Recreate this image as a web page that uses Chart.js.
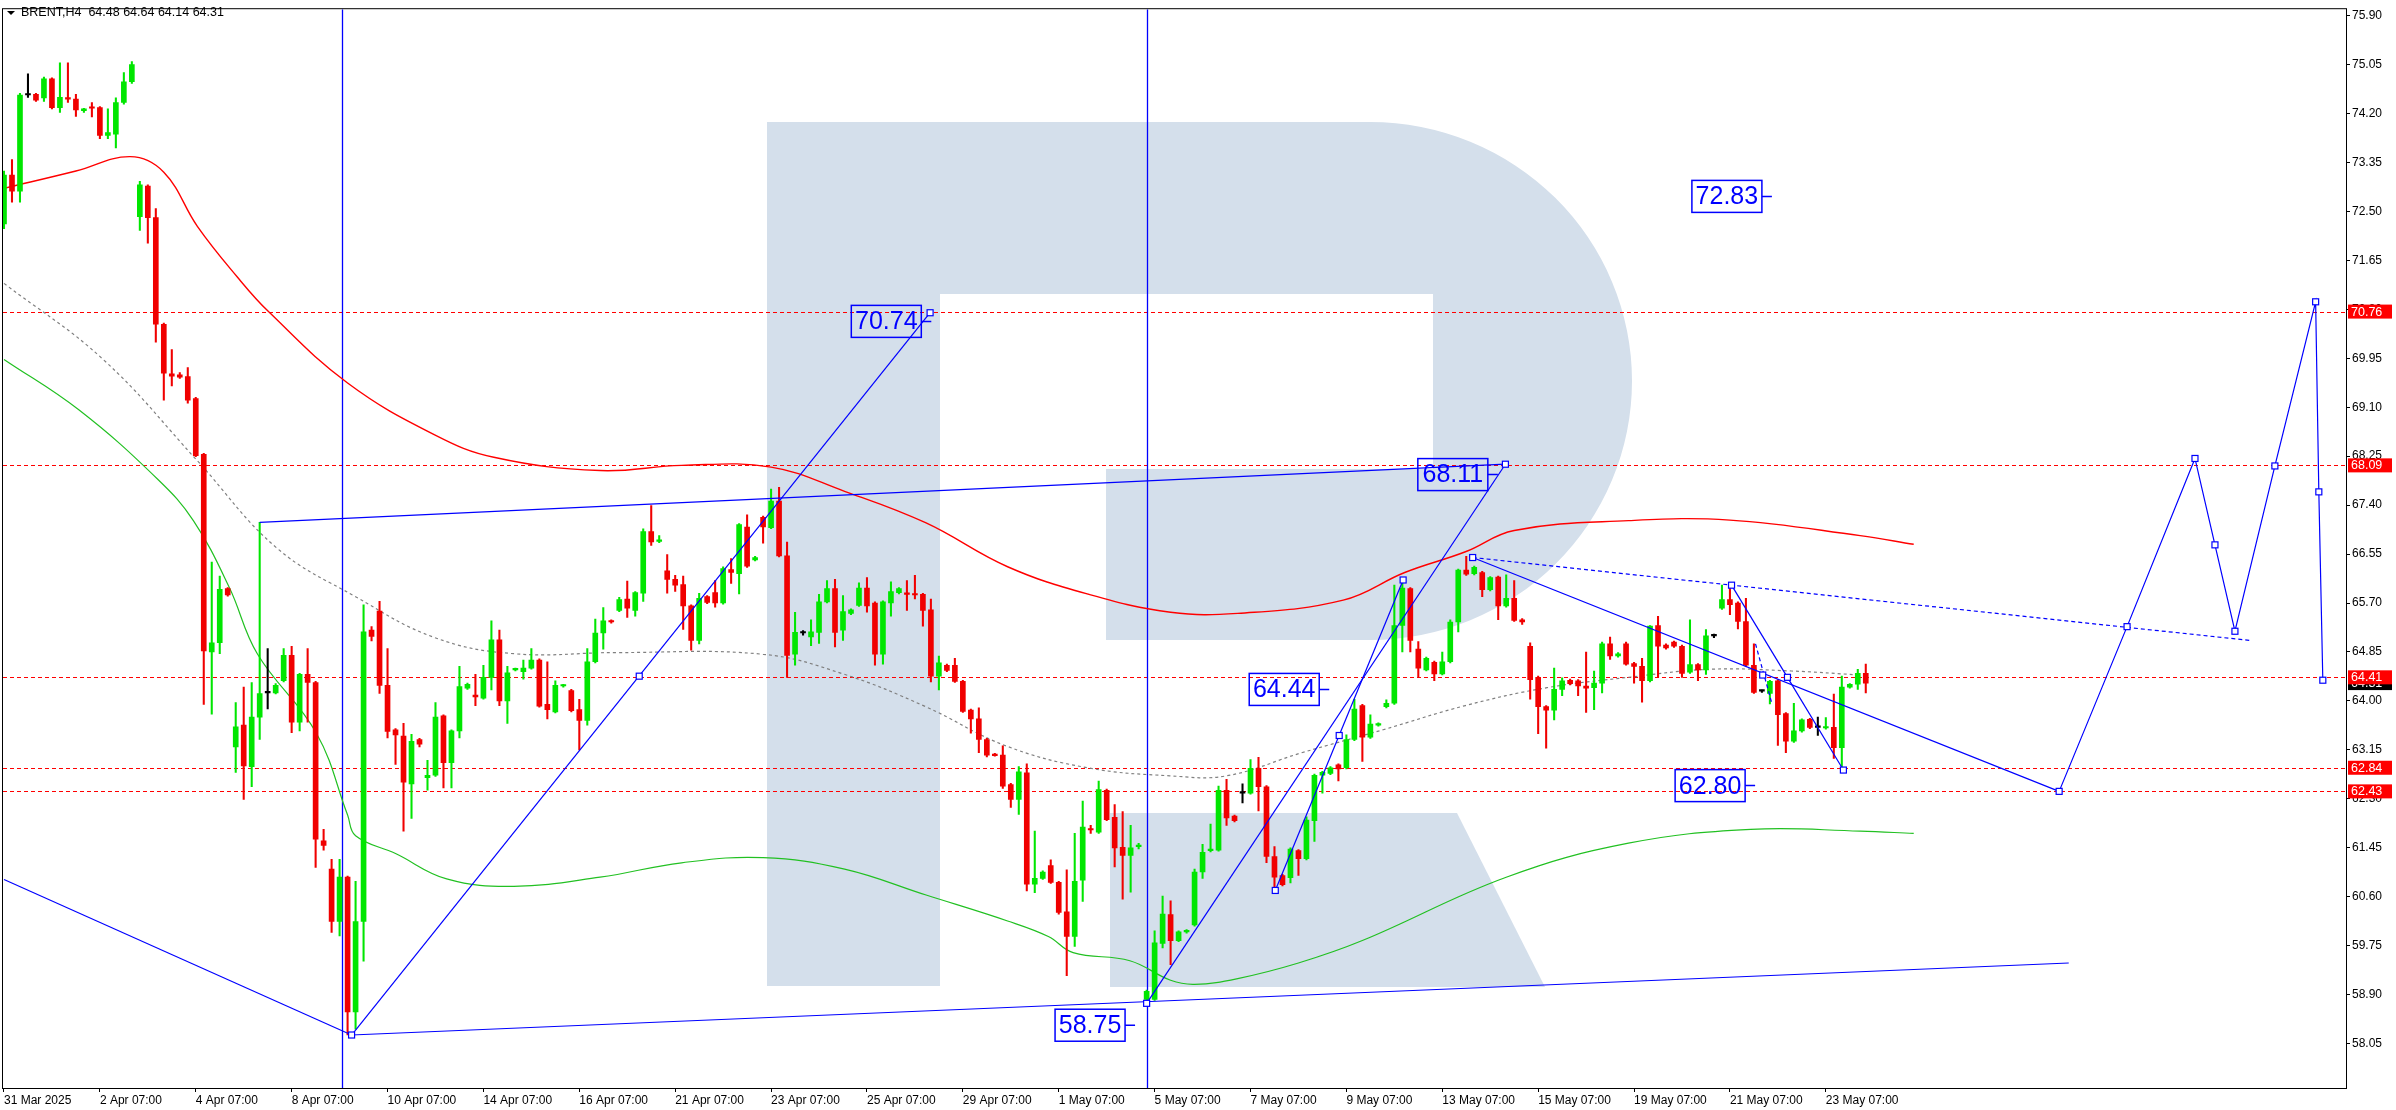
<!DOCTYPE html>
<html>
<head>
<meta charset="utf-8">
<script src="https://cdn.jsdelivr.net/npm/chart.js@4.4.1/dist/chart.umd.min.js"></script>
<style>
  html, body { margin: 0; padding: 0; background: #fff; }
  #wrap { width: 2396px; height: 1110px; }
</style>
</head>
<body>
<div id="wrap"><canvas id="c" width="2396" height="1110"></canvas></div>
<script>
// ── Data (BRENT H4) ───────────────────────────────────────────────────────────
const opens = [72.28,73.13,72.85,74.52,74.53,74.47,74.80,74.30,74.47,74.45,74.25,74.31,74.30,73.82,73.84,74.39,74.75,
  72.41,72.94,72.39,70.54,69.68,69.66,69.63,69.25,68.28,64.85,65.01,65.95,
  63.20,63.58,62.86,63.72,64.14,64.14,64.35,64.79,63.63,64.46,64.32,61.57,61.08,60.17,60.94,58.60,60.17,65.23,65.56,64.27,
  63.50,63.39,62.56,63.33,62.67,62.71,63.74,62.93,63.48,64.22,64.10,64.05,64.41,65.06,64.00,64.54,64.51,64.57,64.71,63.94,
  63.81,64.26,64.18,63.85,63.66,64.68,65.18,65.39,65.57,65.77,65.57,65.87,66.94,66.77,66.26,66.11,66.02,65.65,65.05,65.81,
  65.88,65.70,66.28,66.21,67.02,66.45,67.19,67.01,67.47,66.52,64.81,65.18,65.11,65.19,65.72,65.95,65.23,65.52,65.66,65.96,
  65.70,64.81,65.70,65.88,65.87,65.86,65.85,65.58,64.43,64.62,64.62,64.34,63.84,63.69,63.33,63.07,63.06,62.55,62.29,62.75,
  60.82,60.92,61.14,60.85,60.34,59.91,60.89,61.78,61.72,62.45,61.98,61.46,61.32,61.47,58.82,58.82,59.79,60.29,59.84,59.99,
  60.11,61.03,61.40,61.41,62.45,62.00,62.40,62.40,62.83,62.51,61.30,60.97,60.93,61.40,61.26,61.92,62.71,62.74,62.89,62.84,
  63.33,63.92,63.37,63.58,63.90,63.96,65.31,65.95,64.90,64.54,64.67,64.47,64.68,65.37,66.27,66.21,66.23,65.93,66.15,65.65,
  65.78,65.41,64.95,64.41,63.90,63.84,64.20,64.36,64.35,64.26,64.23,64.31,64.99,64.78,64.99,64.65,64.60,64.35,65.31,64.97,
  65.02,64.95,64.50,64.63,64.54,65.13,65.61,65.76,65.70,65.38,64.62,64.17,64.13,64.35,63.78,63.30,63.48,63.68,63.54,63.53,
  63.54,63.19,64.24,64.29,64.48];
const highs = [73.20,73.40,74.55,74.89,74.55,74.83,74.82,75.08,75.08,74.53,74.29,74.39,74.32,74.28,74.47,74.91,75.10,
  73.02,72.96,72.55,70.56,70.10,69.70,69.79,69.27,68.30,66.41,66.17,65.97,
  63.97,64.24,64.32,67.10,64.91,64.30,64.91,64.95,64.48,64.91,64.34,61.77,61.25,61.25,60.96,60.87,65.67,65.29,65.73,64.91,
  63.52,63.61,63.42,63.35,62.97,63.97,63.76,63.50,64.60,64.31,64.46,64.62,65.39,65.23,64.60,64.57,64.71,64.91,64.73,64.68,
  64.35,64.29,64.20,64.03,64.91,65.42,65.62,65.41,65.80,66.08,65.90,66.99,67.39,66.87,66.54,66.18,66.17,65.67,65.87,65.83,
  66.09,66.33,66.47,67.08,67.23,66.51,67.21,67.68,67.71,66.76,65.54,65.22,65.41,65.85,66.09,66.11,65.83,65.60,66.05,66.14,
  65.72,65.74,66.07,65.97,66.09,66.18,65.87,65.77,64.78,64.64,64.74,64.36,63.86,63.88,63.35,63.09,63.22,62.57,62.86,62.91,
  61.74,61.05,61.24,60.87,61.07,61.70,62.26,61.84,62.61,62.47,62.20,62.08,61.84,61.53,58.98,60.01,60.61,60.53,60.01,60.03,
  61.08,61.51,61.86,62.52,62.64,62.02,62.56,62.98,63.02,62.53,61.47,60.99,61.45,61.42,61.99,62.73,62.78,62.86,62.91,63.41,
  64.03,63.94,63.76,63.62,64.02,66.01,66.12,65.97,65.03,64.76,64.69,64.85,65.41,66.29,66.51,66.34,66.25,66.16,66.17,66.19,
  66.09,65.43,65.01,64.43,63.92,64.57,64.40,64.38,64.37,64.85,64.52,65.02,65.11,64.84,65.02,64.67,64.74,65.31,65.47,64.99,
  65.04,64.97,65.41,64.65,65.24,65.16,66.01,66.00,65.72,65.78,64.99,64.19,64.36,64.37,63.80,63.96,63.69,63.70,63.72,63.71,
  64.12,64.43,64.30,64.55,64.64];
const lows = [72.20,72.66,72.66,74.48,74.41,74.41,74.28,74.22,74.39,74.15,74.22,74.14,73.76,73.76,73.60,74.36,74.72,
  72.17,71.95,70.23,69.22,69.47,69.60,69.17,68.24,63.94,63.77,64.82,65.82,
  62.76,62.29,62.51,63.33,63.86,64.12,64.33,63.45,63.48,63.63,61.11,61.41,59.98,59.92,58.20,58.30,59.48,65.04,64.13,63.36,
  62.90,61.74,61.96,63.20,62.45,62.69,62.49,62.49,63.36,64.20,63.92,64.03,64.19,63.92,63.61,64.52,64.38,64.55,63.89,63.69,
  63.79,64.24,63.81,63.15,63.58,64.66,64.90,65.35,65.55,65.45,65.47,65.73,66.70,66.75,65.87,65.90,65.24,64.88,64.99,65.69,
  65.63,65.68,66.04,65.86,66.32,66.43,66.74,66.99,66.50,64.41,64.62,65.14,64.96,65.00,65.70,64.94,65.05,65.50,65.64,65.54,
  64.62,64.64,65.47,65.86,65.57,65.77,65.30,64.33,64.19,64.51,64.32,63.80,63.44,63.10,63.03,63.04,62.48,62.15,62.03,60.70,
  60.67,60.90,60.83,60.30,59.23,59.74,60.52,61.70,61.70,61.92,61.12,60.56,60.68,61.43,58.75,58.80,59.71,59.42,59.82,59.97,
  60.09,60.92,61.38,61.39,61.84,61.90,62.23,62.38,62.09,61.19,60.71,60.79,60.84,60.97,61.24,61.56,62.40,62.72,62.61,62.82,
  63.31,62.95,63.35,63.56,63.88,63.94,64.85,64.85,64.41,64.52,64.35,64.45,64.66,65.20,66.18,66.19,65.81,65.91,65.41,65.63,
  65.38,65.33,64.03,63.43,63.18,63.67,64.09,64.28,64.09,63.80,63.85,64.14,64.72,64.76,64.62,64.31,63.98,64.33,64.41,64.90,
  64.93,64.41,64.48,64.35,64.46,65.10,65.59,65.50,65.25,64.60,64.13,64.15,63.95,63.23,63.10,63.28,63.46,63.52,63.40,63.51,
  63.00,62.80,64.22,64.20,64.14];
const closes = [73.13,72.85,74.52,74.52,74.43,74.80,74.30,74.48,74.45,74.26,74.28,74.29,73.82,73.87,74.39,74.75,75.05,
  72.96,72.39,70.54,69.69,69.64,69.62,69.22,68.26,64.87,65.01,65.94,65.84,
  63.55,62.87,63.72,64.13,64.14,64.27,64.79,63.63,64.46,64.32,61.60,61.49,60.17,60.94,58.60,60.17,65.20,65.12,64.27,63.47,
  63.41,62.59,63.30,63.25,62.71,63.72,62.93,63.48,64.25,64.29,64.07,64.41,65.06,64.00,64.49,64.56,64.57,64.71,63.91,63.85,
  64.27,64.28,63.83,63.66,64.68,65.18,65.39,65.37,65.76,65.61,65.88,66.94,66.76,66.79,66.11,66.01,65.65,65.05,65.78,65.71,
  65.70,66.30,66.23,67.06,66.34,66.49,67.02,67.47,66.52,64.79,65.19,65.18,65.20,65.72,65.95,65.19,65.55,65.58,65.96,65.65,
  64.81,65.72,65.90,65.95,65.85,65.84,65.57,64.43,64.66,64.53,64.34,63.82,63.69,63.33,63.06,63.05,62.52,62.29,62.77,60.82,
  60.92,61.03,60.85,60.33,59.91,60.87,61.81,61.76,62.46,61.94,61.45,61.32,61.45,61.49,58.96,59.80,60.30,59.84,59.99,60.01,
  61.03,61.37,61.42,62.45,61.97,61.92,62.40,62.83,62.51,61.30,60.94,60.81,61.43,61.26,61.93,62.71,62.76,62.84,62.82,63.33,
  63.86,63.37,63.60,63.60,63.96,65.31,65.96,65.05,64.57,64.74,64.47,64.68,65.37,66.27,66.20,66.32,65.93,66.14,65.65,65.78,
  65.40,65.37,64.37,63.90,63.84,64.20,64.35,64.30,64.26,64.22,64.31,64.99,64.78,64.82,64.64,64.60,64.35,65.30,64.95,64.92,
  64.95,64.48,64.63,64.54,65.13,65.13,65.76,65.67,65.38,64.62,64.15,64.17,64.34,63.76,63.30,63.48,63.67,63.54,63.54,63.55,
  63.19,64.24,64.29,64.48,64.31];

const dateTicks  = [0,12,24,36,48,60,72,84,96,108,120,132,144,156,168,180,192,204,216,228];
const dateLabels = ['31 Mar 2025','2 Apr 07:00','4 Apr 07:00','8 Apr 07:00','10 Apr 07:00','14 Apr 07:00','16 Apr 07:00',
  '21 Apr 07:00','23 Apr 07:00','25 Apr 07:00','29 Apr 07:00','1 May 07:00','5 May 07:00','7 May 07:00','9 May 07:00',
  '13 May 07:00','15 May 07:00','19 May 07:00','21 May 07:00','23 May 07:00'];
const priceTicks = [58.05,58.90,59.75,60.60,61.45,62.30,63.15,64.00,64.85,65.70,66.55,67.40,68.25,69.10,69.95,70.80,71.65,72.50,73.35,74.20,75.05,75.90];

// moving averages at sample bars
const maSlowX = [0,9,15.8,20,24.2,29.2,33.1,43,53.9,61.3,74.6,84.8,96,105.2,115.4,125.6,135.8,146,154.4,167.6,175.3,182.9,189,203.3,216,232.3,239];
const maSlowY = [72.9,73.2,73.45,73.18,72.24,71.36,70.76,69.52,68.62,68.23,68.0,68.09,68.06,67.64,67.09,66.33,65.85,65.54,65.52,65.75,66.23,66.59,66.96,67.13,67.14,66.87,66.72];
const maMidX  = [0,12.4,24.2,34.1,44,53.9,63.8,76.7,95,105,115.2,125.4,135.6,145.9,153,162.4,172.6,182.9,193.1,203.3,213.5,223.7,232.3];
const maMidY  = [71.25,69.93,68.17,66.66,65.81,65.1,64.82,64.84,64.81,64.47,63.91,63.22,62.84,62.7,62.7,63.1,63.5,63.92,64.23,64.41,64.55,64.52,64.45];
const maFastX = [0,9.4,19.3,23.7,28.2,31.7,39.1,43,44,49,55.4,63.8,74.6,84.8,95,105.2,115.4,125.6,130.7,133.8,140.9,146,149,154.4,162,170,188,203.3,218.6,232.3,239];
const maFastY = [69.93,69.05,67.84,67.13,65.97,64.82,63.44,62.02,61.66,61.35,60.91,60.78,60.94,61.19,61.28,61.08,60.63,60.18,59.91,59.63,59.49,59.15,59.08,59.18,59.45,59.84,60.94,61.53,61.77,61.74,61.7];

const levels = [70.76, 68.09, 64.41, 62.84, 62.43];

// trend lines [x1, y1, x2, y2]
const trendLines = [
  [0,60.9, 43.5,58.2], [43.5,58.2, 258.4,59.45], [43.5,58.2, 115.9,70.74],
  [32,67.1, 187.9,68.11], [143,58.75, 187.9,68.11], [159.1,60.71, 175.1,66.10],
  [183.8,66.49, 257.2,62.43], [216.2,66.01, 223.2,64.41], [223.2,64.41, 230.2,62.80]
];
const dottedLines = [[183.8,66.49, 281.1,65.05], [219.2,64.99, 221.2,63.98]];
const projX = [257.2,265.7,274.2,276.7,279.2,284.2,289.3,289.7,290.2];
const projY = [62.43,65.29,68.21,66.71,65.21,68.08,70.93,67.63,64.36];
const markX = [115.9,187.9,43.5,143,79.5,159.1,167.1,175.1,183.8,216.2,220.1,223.2,230.2];
const markY = [70.74,68.11,58.2,58.75,64.43,60.71,63.4,66.10,66.49,66.01,64.45,64.41,62.80];
const vLines = [42.3, 143.05];
const boxText  = ['72.83','70.74','68.11','64.44','62.80','58.75'];
const boxRight = [220.0,114.8,185.7,164.6,217.9,140.3];
const boxPrice = [72.76,70.59,67.93,64.20,62.53,58.37];

// ── Helpers ───────────────────────────────────────────────────────────────────
const UP = '#00e600', DOWN = '#f00000', DOJI = '#000000', BLUE = '#0000ff';
const candleColor = i => closes[i] > opens[i] ? UP : (closes[i] < opens[i] ? DOWN : DOJI);
const colors = closes.map((c, i) => candleColor(i));
const pts = (xs, ys) => xs.map((x, i) => ({ x, y: ys[i] }));
const FONT = '"Liberation Sans", Arial, sans-serif';

// ── Background logo, levels and drawings ─────────────────────────────────────
const backdrop = {
  id: 'backdrop',
  beforeDatasetsDraw(chart) {
    const ctx = chart.ctx, a = chart.chartArea;
    ctx.save();
    ctx.beginPath(); ctx.rect(a.left, a.top, a.width, a.height); ctx.clip();
    ctx.fillStyle = '#d4dfeb';
    ctx.beginPath();
    ctx.moveTo(767, 122); ctx.lineTo(1370, 122);
    ctx.ellipse(1370, 381, 262, 259, 0, -Math.PI / 2, Math.PI / 2);
    ctx.lineTo(1106, 640); ctx.lineTo(1106, 469); ctx.lineTo(1433, 469);
    ctx.lineTo(1433, 294); ctx.lineTo(940, 294); ctx.lineTo(940, 986);
    ctx.lineTo(767, 986); ctx.closePath(); ctx.fill();
    ctx.beginPath();
    ctx.moveTo(1110, 813); ctx.lineTo(1457, 813); ctx.lineTo(1545, 987); ctx.lineTo(1110, 987);
    ctx.closePath(); ctx.fill();

    const x = chart.scales.x, y = chart.scales.y;
    ctx.strokeStyle = '#ff0000'; ctx.lineWidth = 1; ctx.setLineDash([4, 3]);
    levels.forEach(p => {
      const py = Math.round(y.getPixelForValue(p)) + 0.5;
      ctx.beginPath(); ctx.moveTo(a.left, py); ctx.lineTo(a.right, py); ctx.stroke();
    });
    ctx.setLineDash([]);
    ctx.strokeStyle = BLUE; ctx.lineWidth = 1.3;
    vLines.forEach(v => {
      const px = Math.round(x.getPixelForValue(v)) + 0.5;
      ctx.beginPath(); ctx.moveTo(px, a.top); ctx.lineTo(px, a.bottom); ctx.stroke();
    });
    ctx.restore();
  },
  afterDatasetsDraw(chart) {
    const ctx = chart.ctx, a = chart.chartArea;
    const x = chart.scales.x, y = chart.scales.y;
    const X = v => x.getPixelForValue(v), Y = v => y.getPixelForValue(v);
    ctx.save();
    ctx.beginPath(); ctx.rect(a.left, a.top, a.width, a.height); ctx.clip();
    ctx.strokeStyle = BLUE; ctx.lineWidth = 1.2;
    trendLines.forEach(l => {
      ctx.beginPath(); ctx.moveTo(X(l[0]), Y(l[1])); ctx.lineTo(X(l[2]), Y(l[3])); ctx.stroke();
    });
    ctx.setLineDash([4, 3]);
    dottedLines.forEach(l => {
      ctx.beginPath(); ctx.moveTo(X(l[0]), Y(l[1])); ctx.lineTo(X(l[2]), Y(l[3])); ctx.stroke();
    });
    ctx.setLineDash([]);
    ctx.beginPath();
    projX.forEach((v, i) => i ? ctx.lineTo(X(v), Y(projY[i])) : ctx.moveTo(X(v), Y(projY[i])));
    ctx.stroke();

    const square = (px, py) => {
      ctx.fillStyle = '#fff'; ctx.fillRect(px - 3, py - 3, 6, 6);
      ctx.strokeRect(px - 3, py - 3, 6, 6);
    };
    markX.forEach((v, i) => square(X(v), Y(markY[i])));
    projX.forEach((v, i) => square(X(v), Y(projY[i])));

    ctx.font = '25px ' + FONT; ctx.textBaseline = 'middle'; ctx.textAlign = 'center';
    boxText.forEach((t, i) => {
      const r = X(boxRight[i]), cy = Y(boxPrice[i]), w = 70, h = 32;
      ctx.lineWidth = 1.5; ctx.strokeStyle = BLUE;
      ctx.strokeRect(r - w, cy - h / 2, w, h);
      ctx.beginPath(); ctx.moveTo(r, cy); ctx.lineTo(r + 10, cy); ctx.stroke();
      ctx.fillStyle = BLUE; ctx.fillText(t, r - w / 2, cy + 1);
    });
    ctx.restore();

    // frame, header and right-hand price tags
    ctx.save();
    ctx.strokeStyle = '#000'; ctx.lineWidth = 1;
    ctx.strokeRect(a.left - 0.5, a.top - 0.5, a.width + 1, a.height + 1);
    ctx.fillStyle = '#000';
    ctx.beginPath(); ctx.moveTo(7, 11); ctx.lineTo(15, 11); ctx.lineTo(11, 15); ctx.closePath(); ctx.fill();
    ctx.font = '12.5px ' + FONT; ctx.textBaseline = 'middle'; ctx.textAlign = 'left';
    ctx.fillText('BRENT,H4  64.48 64.64 64.14 64.31', 21, 13);
    const tag = (p, bg, txt) => {
      const py = Y(p);
      ctx.fillStyle = bg; ctx.fillRect(a.right + 2, py - 7, 44, 14);
      ctx.fillStyle = '#fff'; ctx.fillText(txt, a.right + 5, py + 0.5);
    };
    tag(64.31, '#000', '64.31');
    levels.forEach(p => tag(p, '#ff0000', p.toFixed(2)));
    ctx.restore();
  }
};

// ── Chart ─────────────────────────────────────────────────────────────────────
new Chart(document.getElementById('c'), {
  type: 'bar',
  data: {
    datasets: [
      { type: 'line', data: pts(maSlowX, maSlowY), borderColor: '#ff0000', borderWidth: 1.4,
        pointRadius: 0, tension: 0.4, order: 3 },
      { type: 'line', data: pts(maMidX, maMidY), borderColor: '#808080', borderWidth: 1.2,
        borderDash: [3, 3], pointRadius: 0, tension: 0.4, order: 3 },
      { type: 'line', data: pts(maFastX, maFastY), borderColor: '#22c022', borderWidth: 1.2,
        pointRadius: 0, tension: 0.4, order: 3 },
      { data: lows.map((l, i) => ({ x: i, y: [l, highs[i]] })), backgroundColor: colors,
        barThickness: 1.4, grouped: false, order: 2 },
      { data: opens.map((o, i) => ({ x: i, y: [Math.min(o, closes[i]), Math.max(o, closes[i])] })),
        backgroundColor: colors, barThickness: 5, minBarLength: 1.5, grouped: false, order: 1 }
    ]
  },
  options: {
    responsive: false, animation: false, devicePixelRatio: 1,
    layout: { padding: { left: 3, top: 3, right: 0, bottom: 0 } },
    plugins: { legend: { display: false }, tooltip: { enabled: false } },
    scales: {
      x: {
        type: 'linear', min: -0.125, max: 293.1, offset: false,
        afterBuildTicks: s => { s.ticks = dateTicks.map(v => ({ value: v })); },
        afterFit: s => { s.height = 22; },
        grid: { drawOnChartArea: false, tickLength: 4, color: '#000', offset: false },
        border: { display: true, color: '#000' },
        ticks: { autoSkip: false, maxRotation: 0, align: 'start', padding: 1, color: '#000',
          font: { family: FONT, size: 12 },
          callback: v => dateLabels[dateTicks.indexOf(v)] }
      },
      y: {
        position: 'right', min: 57.28, max: 76.01,
        afterBuildTicks: s => { s.ticks = priceTicks.map(v => ({ value: v })); },
        afterFit: s => { s.width = 50; },
        grid: { drawOnChartArea: false, tickLength: 4, color: '#000' },
        border: { display: true, color: '#000' },
        ticks: { autoSkip: false, padding: 2, color: '#000', font: { family: FONT, size: 12 },
          callback: v => v.toFixed(2) }
      }
    }
  },
  plugins: [backdrop]
});
</script>
</body>
</html>
